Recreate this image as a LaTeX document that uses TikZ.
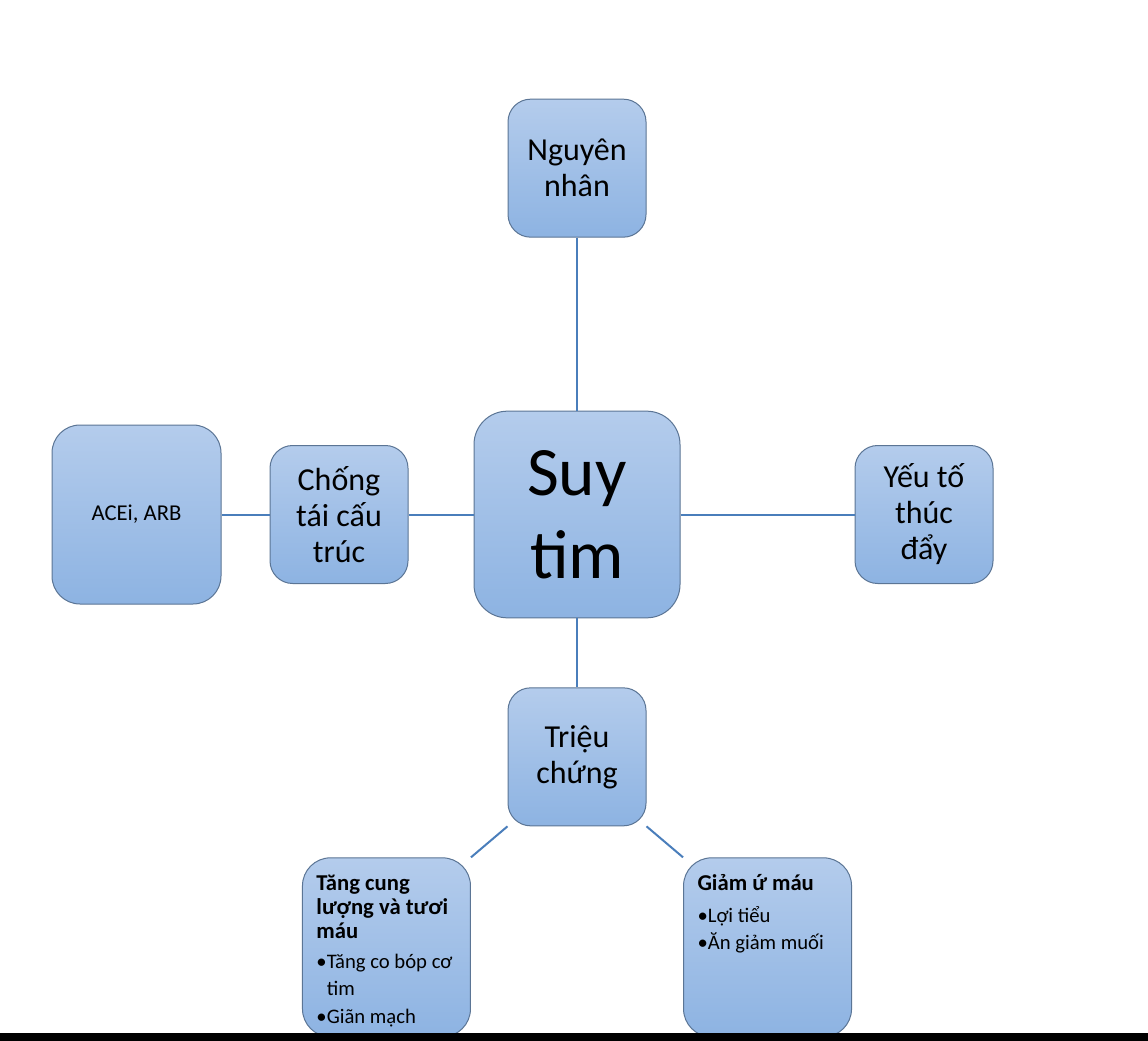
\documentclass[tikz,border=0pt]{standalone}
\usepackage{fontspec}
\setmainfont{Carlito}
\usetikzlibrary{positioning}
\definecolor{boxtop}{HTML}{B4CCEC}
\definecolor{boxbot}{HTML}{8DB3E2}
\definecolor{boxline}{HTML}{5B7595}
\definecolor{linkblue}{HTML}{4A7EBB}
\tikzstyle{block} = [rectangle, rounded corners=17pt, draw=boxline, line width=0.75pt, top color=boxtop, bottom color=boxbot, align=center, minimum width=103.5pt, minimum height=103.5pt, inner sep=0pt, font=\fontsize{24}{27}\selectfont]
\tikzstyle{bigblock} = [block, rounded corners=25pt, minimum width=154.5pt, minimum height=155pt, font=\fontsize{52}{62}\selectfont]
\tikzstyle{tallblock} = [block, rounded corners=21pt, minimum width=126.75pt, minimum height=134.25pt, font=\fontsize{17}{20}\selectfont]
\tikzstyle{listblock} = [block, rounded corners=21pt, minimum width=126pt, minimum height=134.25pt, font=\normalsize]
\tikzstyle{line} = [draw=linkblue, line width=1.5pt]
\newcommand{\listhead}[1]{{\fontsize{17}{17.8}\selectfont\bfseries #1\par}}
\newcommand{\listitem}[1]{{\fontsize{15.5}{20.3}\selectfont #1\par}}

\begin{document}
\begin{tikzpicture}[x=0.75pt, y=-0.75pt]
    \useasboundingbox (0,0) rectangle (1148,1041);
    \fill[white] (0,0) rectangle (1148,1041);
    % Place nodes
    \node [bigblock] (suy) at (577,514.5) {Suy\\tim};
    \node [block, above=129.75pt of suy] (nguyen) {Nguyên\\nhân};
    \node [block, left=48.75pt of suy] (chong) {Chống\\tái cấu\\trúc};
    \node [tallblock, left=36pt of chong] (acei) {ACEi, ARB};
    \node [block, right=130.5pt of suy] (yeu) {Yếu tố\\thúc\\đẩy};
    \node [block, below=51.75pt of suy] (trieu) {Triệu\\chứng};
    \node [listblock, below left=23.25pt and 27.4pt of trieu] (tang) {\parbox[c][108pt][t]{105pt}{\raggedright
        \listhead{\mbox{Tăng cung}\\\mbox{lượng và tươi}\\máu}\vspace{2pt}
        \listitem{•\mbox{Tăng co bóp cơ}\\\phantom{•}tim}\vspace{1pt}
        \listitem{•Giãn mạch}}};
    \node [listblock, below right=23.25pt and 27.4pt of trieu] (giam) {\parbox[c][110pt][t]{105pt}{\raggedright
        \listhead{\mbox{Giảm ứ máu}}\vspace{4pt}
        \listitem{•Lợi tiểu}
        \listitem{•\mbox{Ăn giảm muối}}}};

    % Connect nodes
    \path [line] (nguyen) -- (suy);
    \path [line] (suy) -- (chong);
    \path [line] (chong) -- (acei);
    \path [line] (suy) -- (yeu);
    \path [line] (suy) -- (trieu);
    \path [line] (trieu.south west) -- (tang.north east);
    \path [line] (trieu.south east) -- (giam.north west);

    \fill[black] (0,1033) rectangle (1148,1041);
\end{tikzpicture}
\end{document}
